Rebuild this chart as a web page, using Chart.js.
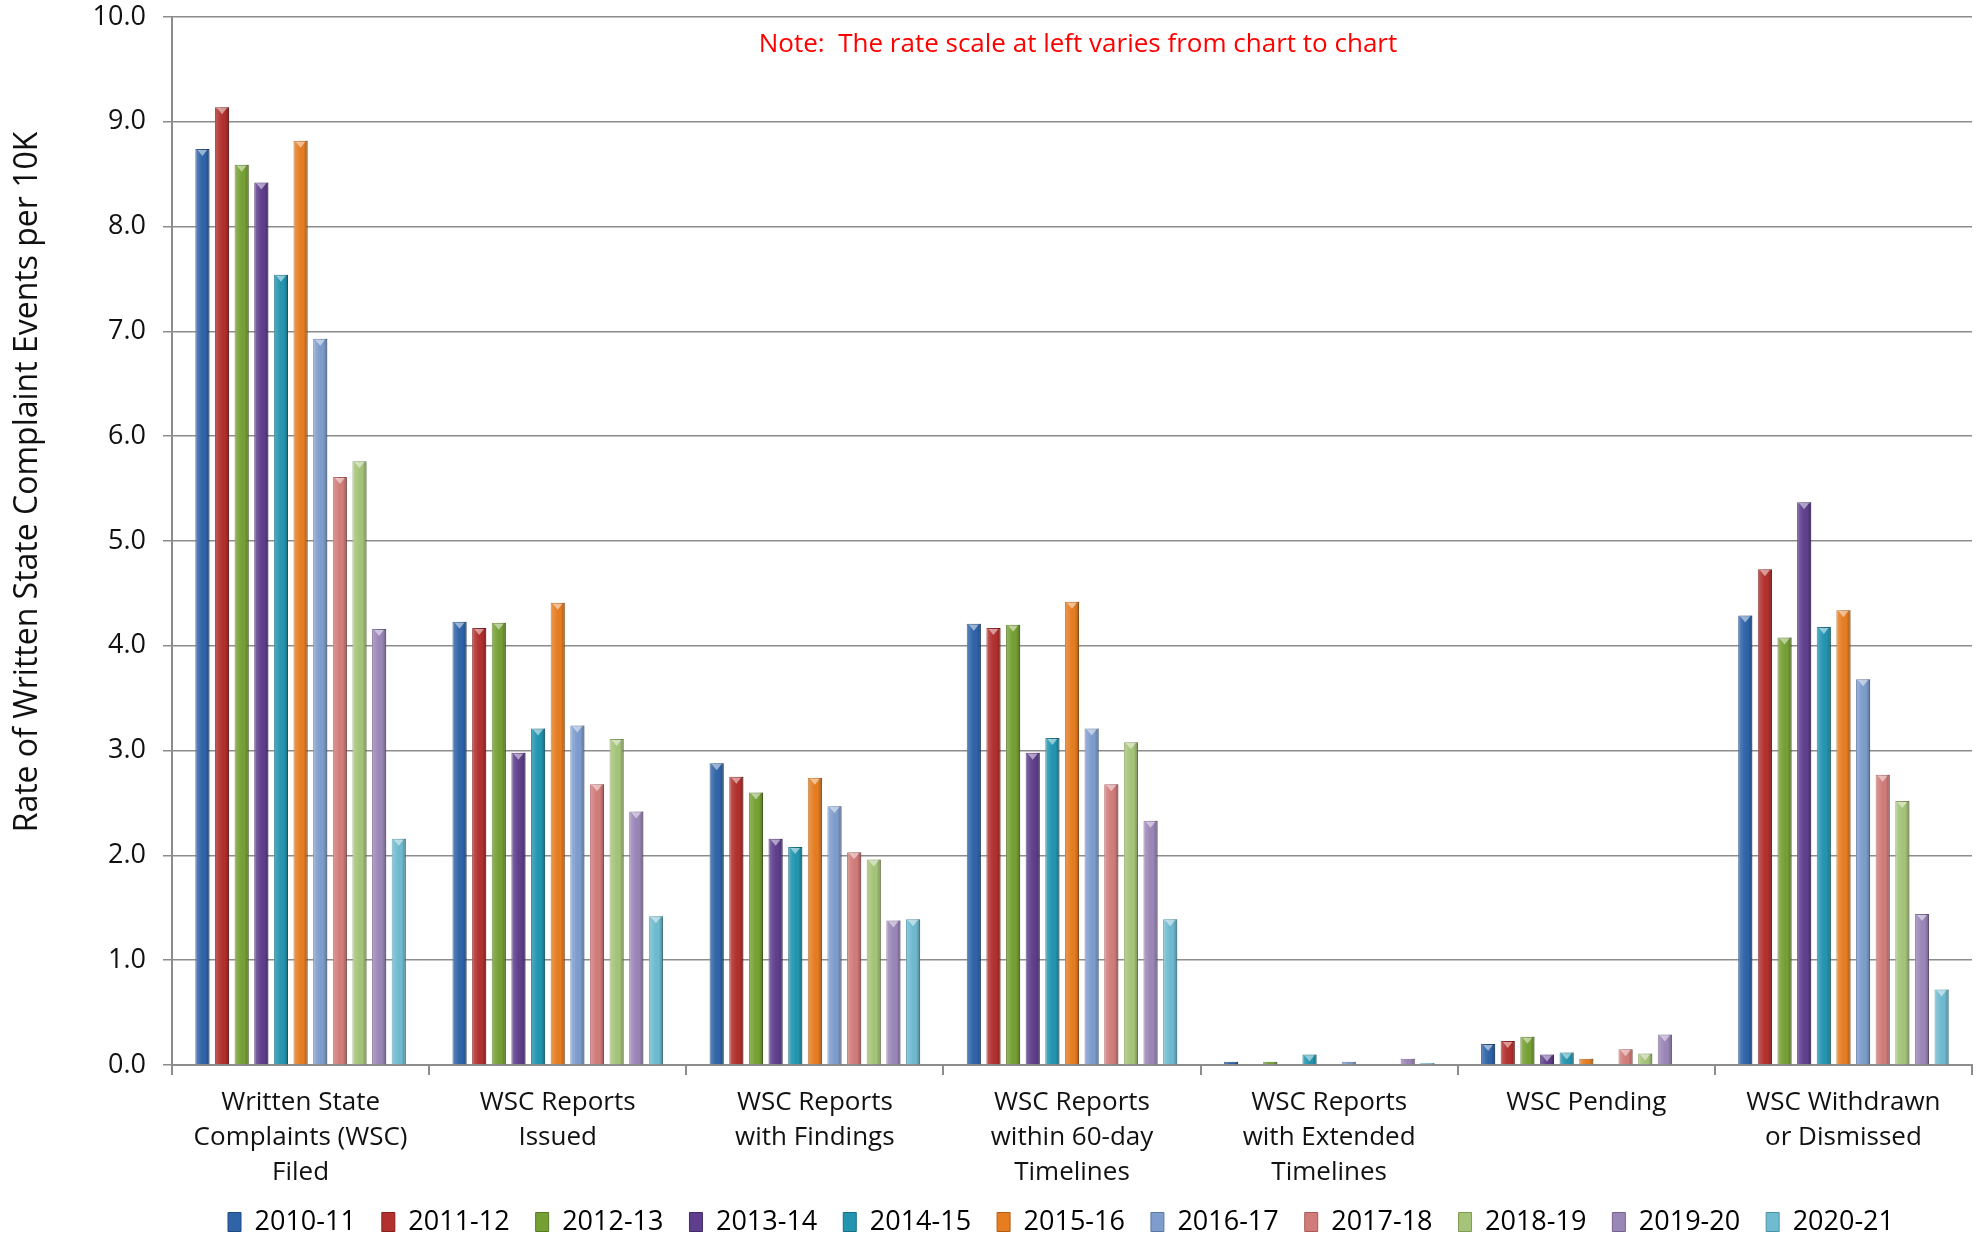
<!DOCTYPE html>
<html>
<head>
<meta charset="utf-8">
<script src="https://cdn.jsdelivr.net/npm/chart.js@4.4.1/dist/chart.umd.min.js"></script>
<style>
  html, body { margin: 0; padding: 0; background: #fff; }
  #wrap { width: 1984px; height: 1236px; }
</style>
</head>
<body>
<div id="wrap"><canvas id="chart" width="1984" height="1236"></canvas></div>
<script>
// categories on the x axis
const categories = [
    ['Written State', 'Complaints (WSC)', 'Filed'],
    ['WSC Reports', 'Issued'],
    ['WSC Reports', 'with Findings'],
    ['WSC Reports', 'within 60-day', 'Timelines'],
    ['WSC Reports', 'with Extended', 'Timelines'],
    ['WSC Pending'],
    ['WSC Withdrawn', 'or Dismissed']
];

// school years (legend)
const years = ['2010-11', '2011-12', '2012-13', '2013-14', '2014-15', '2015-16',
               '2016-17', '2017-18', '2018-19', '2019-20', '2020-21'];

// rate per 10K, one array per year, in category order
const y2010_11 = [8.74, 4.23, 2.88, 4.21, 0.03, 0.20, 4.29];
const y2011_12 = [9.14, 4.17, 2.75, 4.17, 0.00, 0.23, 4.73];
const y2012_13 = [8.59, 4.22, 2.60, 4.20, 0.03, 0.27, 4.08];
const y2013_14 = [8.42, 2.98, 2.16, 2.98, 0.00, 0.10, 5.37];
const y2014_15 = [7.54, 3.21, 2.08, 3.12, 0.10, 0.12, 4.18];
const y2015_16 = [8.82, 4.41, 2.74, 4.42, 0.00, 0.06, 4.34];
const y2016_17 = [6.93, 3.24, 2.47, 3.21, 0.03, 0.00, 3.68];
const y2017_18 = [5.61, 2.68, 2.03, 2.68, 0.00, 0.15, 2.77];
const y2018_19 = [5.76, 3.11, 1.96, 3.08, 0.00, 0.11, 2.52];
const y2019_20 = [4.16, 2.42, 1.38, 2.33, 0.06, 0.29, 1.44];
const y2020_21 = [2.16, 1.42, 1.39, 1.39, 0.02, 0.00, 0.72];

const allValues = [y2010_11, y2011_12, y2012_13, y2013_14, y2014_15, y2015_16,
                   y2016_17, y2017_18, y2018_19, y2019_20, y2020_21];

const colors = ['#2f64a8', '#b2302d', '#76a034', '#5f3f8d', '#2395b0', '#e67d21',
                '#7e9dcd', '#d17c7a', '#a5c479', '#9b86b8', '#6fbbd0'];
const borders = ['#1f4a80', '#86201e', '#567a22', '#432b68', '#176f84', '#b25e12',
                 '#5b78a6', '#a85a58', '#7f9a55', '#75618f', '#4b94a8'];

const FONT = '"Open Sans", "DejaVu Sans", sans-serif';
const LEGEND_PAD = 26;
const LEGEND_FONT = 27;

// red note, rotated axis title, legend placement and bar shading
const extrasPlugin = {
    id: 'extras',
    beforeLayout(chart) {
        // wide gaps between legend items without a tall legend box
        const lg = chart.legend;
        if (lg && !lg._slim) {
            const fit = lg.fit;
            lg.fit = function () { fit.call(this); this.height = 40; };
            lg._slim = true;
        }
    },
    afterLayout(chart) {
        const lg = chart.legend;
        const dx = (chart.chartArea.left + chart.chartArea.right) / 2 - 11 - (lg.left + lg.right) / 2;
        lg.left += dx;
        lg.right += dx;
        lg.top = 1222 - LEGEND_PAD - LEGEND_FONT / 2;
        lg.bottom = lg.top + LEGEND_PAD * 2 + LEGEND_FONT;
    },
    afterDatasetsDraw(chart) {
        const ctx = chart.ctx;
        chart.data.datasets.forEach((ds, di) => {
            const meta = chart.getDatasetMeta(di);
            meta.data.forEach(bar => {
                const h = bar.base - bar.y;
                if (h < 1) return;
                const l = bar.x - bar.width / 2;
                const g = ctx.createLinearGradient(l, 0, l + bar.width, 0);
                g.addColorStop(0, 'rgba(255,255,255,0.22)');
                g.addColorStop(0.35, 'rgba(255,255,255,0.06)');
                g.addColorStop(0.7, 'rgba(0,0,0,0)');
                g.addColorStop(1, 'rgba(0,0,0,0.28)');
                ctx.save();
                ctx.fillStyle = g;
                ctx.fillRect(l, bar.y, bar.width, h);
                if (h > 6) {
                    ctx.fillStyle = 'rgba(255,255,255,0.5)';
                    ctx.beginPath();
                    ctx.moveTo(bar.x - bar.width * 0.34, bar.y + 1);
                    ctx.lineTo(bar.x + bar.width * 0.34, bar.y + 1);
                    ctx.lineTo(bar.x, bar.y + 7);
                    ctx.closePath();
                    ctx.fill();
                }
                ctx.restore();
            });
        });
    },
    afterDraw(chart) {
        const ctx = chart.ctx;
        ctx.save();
        ctx.fillStyle = '#ff0000';
        ctx.font = '26px ' + FONT;
        ctx.textAlign = 'center';
        ctx.textBaseline = 'middle';
        ctx.fillText('Note:  The rate scale at left varies from chart to chart', 1078, 45);

        ctx.fillStyle = '#111';
        ctx.font = '32px ' + FONT;
        ctx.translate(28, 482);
        ctx.rotate(-Math.PI / 2);
        ctx.fillText('Rate of Written State Complaint Events per 10K', 0, 0);
        ctx.restore();
    }
};

const ctx = document.getElementById('chart').getContext('2d');
new Chart(ctx, {
    type: 'bar',
    data: {
        labels: categories,
        datasets: years.map((yr, i) => ({
            label: yr,
            data: allValues[i],
            backgroundColor: colors[i],
            borderColor: borders[i],
            borderWidth: 1,
            categoryPercentage: 0.84,
            barPercentage: 0.72
        }))
    },
    plugins: [extrasPlugin],
    options: {
        responsive: false,
        animation: false,
        layout: { padding: { left: 6, right: 12, top: 17, bottom: 0 } },
        plugins: {
            tooltip: { enabled: false },
            legend: {
                position: 'bottom',
                labels: {
                    font: { family: FONT, size: LEGEND_FONT },
                    color: '#111',
                    boxWidth: 13,
                    boxHeight: 19,
                    padding: LEGEND_PAD,
                    generateLabels(chart) {
                        return chart.data.datasets.map((ds, i) => ({
                            text: ds.label,
                            fillStyle: colors[i],
                            strokeStyle: borders[i],
                            lineWidth: 1,
                            datasetIndex: i
                        }));
                    }
                }
            }
        },
        scales: {
            x: {
                grid: {
                    offset: true,
                    drawOnChartArea: false,
                    color: '#8c8c8c',
                    lineWidth: 2,
                    tickLength: 10
                },
                border: { color: '#8c8c8c', width: 2 },
                ticks: {
                    font: { family: FONT, size: 26, lineHeight: 1.34 },
                    color: '#111',
                    maxRotation: 0,
                    autoSkip: false,
                    padding: 10
                },
                afterFit(scale) { scale.height = 131; }
            },
            y: {
                min: 0,
                max: 10,
                ticks: {
                    stepSize: 1,
                    font: { family: FONT, size: 27 },
                    color: '#111',
                    padding: 17,
                    callback: v => v.toFixed(1)
                },
                grid: {
                    color: '#8c8c8c',
                    lineWidth: 1.5,
                    tickLength: 9
                },
                border: { color: '#8c8c8c', width: 2 },
                afterFit(scale) {
                    scale.width = 166;
                    scale.paddingTop = 0;
                    scale.paddingBottom = 0;
                }
            }
        }
    }
});
</script>
</body>
</html>
